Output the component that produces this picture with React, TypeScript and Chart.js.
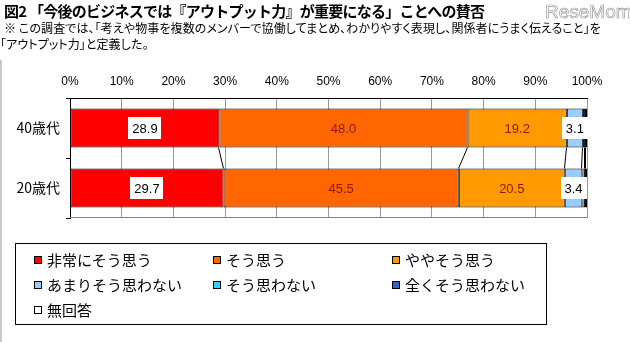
import React, { useEffect, useRef } from "react";
import { Chart, registerables } from "chart.js";

Chart.register(...registerables);

const titleText = "図2 「今後のビジネスでは『アウトプット力』が重要になる」ことへの賛否";
const noteLines = [
  "※ この調査では、「考えや物事を複数のメンバーで協働してまとめ、わかりやすく表現し、関係者にうまく伝えること」を",
  "「アウトプット力」と定義した。",
];
const categories = ["40歳代", "20歳代"];
const seriesLabels = [
  "非常にそう思う",
  "そう思う",
  "ややそう思う",
  "あまりそう思わない",
  "そう思わない",
  "全くそう思わない",
  "無回答",
];
const seriesColors = ["#FF0000", "#FF6600", "#FF9900", "#99CCFF", "#33CCFF", "#3366CC", "#FFFFFF"];
const values40s = [28.9, 48.0, 19.2, 3.1, 0.4, 0.2, 0.2];
const values20s = [29.7, 45.5, 20.5, 3.4, 0.5, 0.2, 0.2];
const boxedLabelSeries = [0, 3];
const plainLabelSeries = [1, 2];

const JP = '"Noto Sans CJK JP", sans-serif';

const seriesLinePlugin = {
  id: "seriesLines",
  afterDatasetsDraw(chart: any) {
    const ctx = chart.ctx;
    ctx.save();
    ctx.strokeStyle = "#000";
    ctx.lineWidth = 1;
    const n = chart.data.datasets.length;
    for (let i = 0; i < n - 1; i++) {
      const meta = chart.getDatasetMeta(i);
      const a = meta.data[0].getProps(["x", "y", "height"], true);
      const b = meta.data[1].getProps(["x", "y", "height"], true);
      ctx.beginPath();
      ctx.moveTo(Math.round(a.x) - 0.5, a.y + a.height / 2);
      ctx.lineTo(Math.round(b.x) - 0.5, b.y - b.height / 2);
      ctx.stroke();
    }
    const ca = chart.chartArea;
    ctx.strokeStyle = "#808080";
    ctx.beginPath();
    ctx.moveTo(ca.left, Math.round(ca.bottom) - 0.5);
    ctx.lineTo(ca.right, Math.round(ca.bottom) - 0.5);
    ctx.stroke();
    ctx.restore();
  },
};

const labelPlugin = {
  id: "segLabels",
  afterDraw(chart: any) {
    const ctx = chart.ctx;
    ctx.save();
    ctx.font = '13px "Liberation Sans", sans-serif';
    ctx.textAlign = "center";
    ctx.textBaseline = "middle";
    chart.data.datasets.forEach((ds: any, i: number) => {
      const boxed = boxedLabelSeries.includes(i);
      const plain = plainLabelSeries.includes(i);
      if (!boxed && !plain) return;
      const meta = chart.getDatasetMeta(i);
      meta.data.forEach((el: any, j: number) => {
        const p = el.getProps(["x", "y", "base"], true);
        const cx = (p.x + p.base) / 2;
        const txt = Number(ds.data[j]).toFixed(1);
        if (boxed) {
          const w = ctx.measureText(txt).width + 8;
          ctx.fillStyle = "#fff";
          ctx.fillRect(Math.round(cx - w / 2), Math.round(p.y - 11), Math.round(w), 22);
          ctx.fillStyle = "#000";
        } else {
          ctx.fillStyle = "#8B1A10";
        }
        ctx.fillText(txt, cx, p.y + 1);
      });
    });
    ctx.restore();
  },
};

export default function App() {
  const ref = useRef<HTMLCanvasElement | null>(null);

  useEffect(() => {
    if (!ref.current) return;
    const chart = new Chart(ref.current, {
      type: "bar",
      data: {
        labels: categories,
        datasets: seriesLabels.map((label, i) => ({
          label,
          data: [values40s[i], values20s[i]],
          backgroundColor: seriesColors[i],
          borderColor: "#000",
          borderWidth: 1,
          borderSkipped: false,
          categoryPercentage: 1,
          barPercentage: 0.65,
        })),
      },
      options: {
        indexAxis: "y",
        responsive: false,
        animation: false,
        events: [],
        layout: { padding: { left: 0, right: 43, top: 0, bottom: 124 } },
        plugins: { legend: { display: false }, tooltip: { enabled: false } },
        scales: {
          x: {
            position: "top",
            stacked: true,
            min: 0,
            max: 100,
            ticks: {
              stepSize: 10,
              callback: (v: any) => v + "%",
              color: "#000",
              font: { family: '"Liberation Sans", sans-serif', size: 12 },
              padding: 9,
              maxRotation: 0,
            },
            grid: { color: "#999", drawTicks: false, lineWidth: 1 },
            border: { color: "#000", width: 1 },
            afterFit: (s: any) => {
              s.height = 98;
            },
          },
          y: {
            stacked: true,
            ticks: {
              color: "#000",
              font: { family: JP, size: 14 },
              padding: 6,
            },
            grid: {
              display: true,
              drawOnChartArea: false,
              offset: true,
              tickLength: 4,
              color: "#000",
            },
            border: { color: "#000", width: 1 },
            afterFit: (s: any) => {
              s.width = 70;
            },
          },
        },
      },
      plugins: [seriesLinePlugin, labelPlugin],
    });
    return () => chart.destroy();
  }, []);

  return (
    <div
      style={{
        position: "absolute",
        left: 0,
        top: 0,
        width: 630,
        height: 342,
        background: "#fff",
        overflow: "hidden",
        fontFamily: JP,
        color: "#000",
      }}
    >
      <canvas ref={ref} width={630} height={342} style={{ position: "absolute", left: 0, top: 0, width: 630, height: 342 }} />
      <div style={{ position: "absolute", left: 0, top: 60, width: 2, height: 282, background: "#c8c8c8" }} />
      <div
        style={{
          position: "absolute",
          left: 4,
          top: 0,
          fontSize: 15,
          fontWeight: "bold",
          lineHeight: "22px",
          whiteSpace: "nowrap",
          letterSpacing: "-0.75px",
        }}
      >
        {titleText}
      </div>
      <div
        style={{
          position: "absolute",
          left: 545,
          top: 1,
          fontSize: 19,
          fontFamily: '"Liberation Sans", sans-serif',
          color: "#fff",
          WebkitTextStroke: "0.7px #9a9a9a",
          lineHeight: "22px",
          whiteSpace: "nowrap",
        }}
      >
        ReseMom
      </div>
      <div
        style={{
          position: "absolute",
          left: 4,
          top: 20,
          fontSize: 12,
          lineHeight: "16px",
          whiteSpace: "nowrap",
          fontFeatureSettings: '"palt"',
          letterSpacing: "0.1px",
        }}
      >
        {noteLines.map((l, i) => (
          <div key={i} style={{ marginLeft: i === 1 ? -4 : 0 }}>{l}</div>
        ))}
      </div>
      <div
        style={{
          position: "absolute",
          left: 15,
          top: 243,
          width: 530,
          height: 80,
          border: "1px solid #000",
          boxSizing: "content-box",
        }}
      >
        <div
          style={{
            display: "grid",
            gridTemplateColumns: "179px 179px 160px",
            gridAutoRows: "25px",
            paddingLeft: 18,
            paddingTop: 3,
          }}
        >
          {seriesLabels.map((l, i) => (
            <div key={l} style={{ display: "flex", alignItems: "center", fontSize: 15, whiteSpace: "nowrap" }}>
              <span
                style={{
                  display: "inline-block",
                  width: 6,
                  height: 6,
                  border: "1px solid #000",
                  background: seriesColors[i],
                  marginRight: 5,
                }}
              />
              {l}
            </div>
          ))}
        </div>
      </div>
    </div>
  );
}
